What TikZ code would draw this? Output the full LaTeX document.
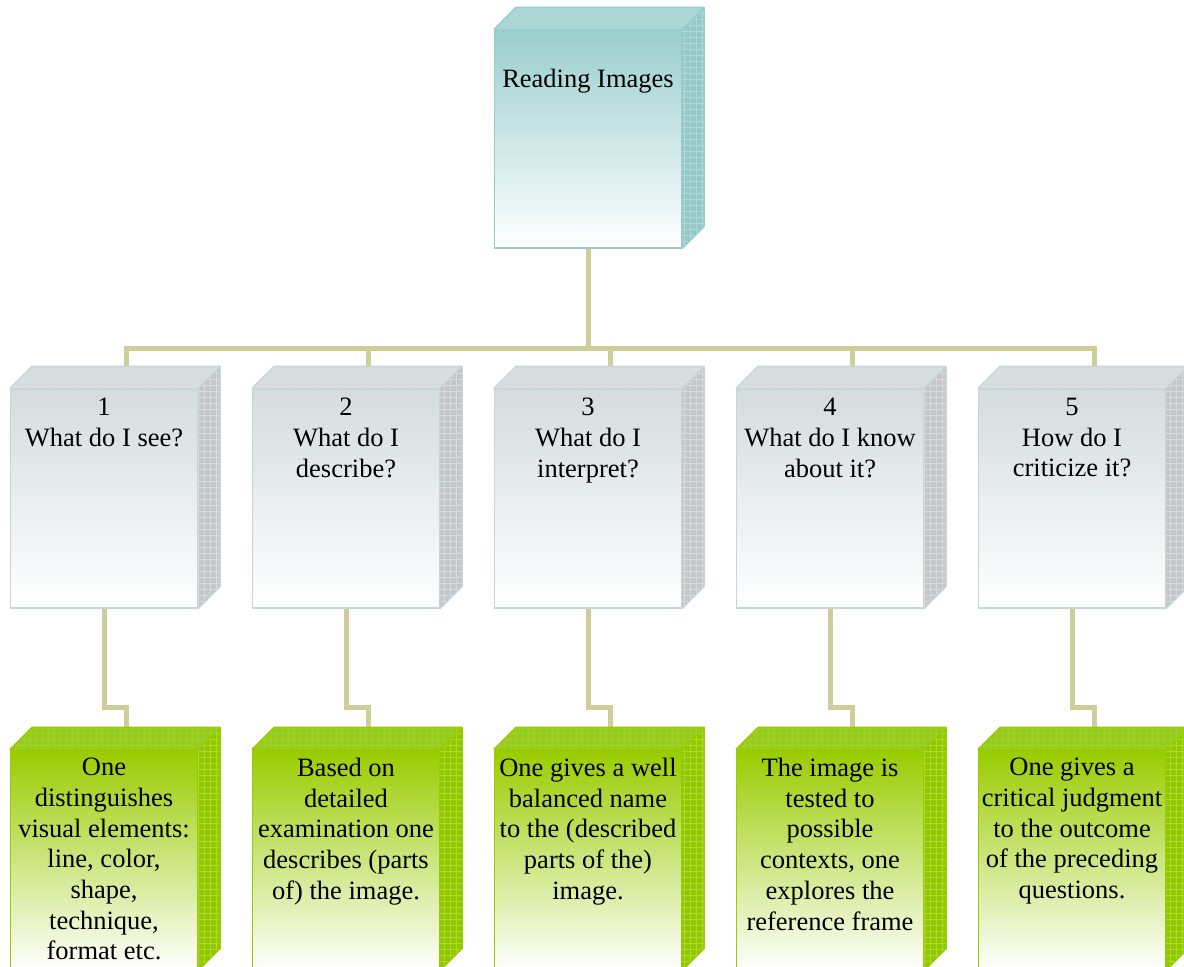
\documentclass[tikz,border=0pt]{standalone}
\usepackage{fontspec}
\setmainfont{Liberation Serif}
\usetikzlibrary{calc,patterns.meta}
\definecolor{conncol}{RGB}{206,206,152}
\definecolor{tealtop}{RGB}{154,206,206}
\definecolor{tealface}{RGB}{170,214,214}
\definecolor{tealside}{RGB}{150,202,202}
\definecolor{tealhatch}{RGB}{176,216,216}
\definecolor{tealborder}{RGB}{150,204,204}
\definecolor{greytop}{RGB}{211,220,222}
\definecolor{greyface}{RGB}{214,222,224}
\definecolor{greyside}{RGB}{196,200,202}
\definecolor{greyhatch}{RGB}{216,219,221}
\definecolor{greyborder}{RGB}{198,213,216}
\definecolor{greentop}{RGB}{153,204,0}
\definecolor{greenface}{RGB}{150,204,30}
\definecolor{greenside}{RGB}{145,200,0}
\definecolor{greenhatch}{RGB}{172,216,50}
\definecolor{greenborder}{RGB}{153,204,0}
\newcommand\mkcube[5]{%
  \fill[#2] (#1.north west) -- ++(22,-22) -- ($(#1.north east)+(22,-22)$) -- (#1.north east) -- cycle;
  \fill[pattern={Hatch[angle=0,distance=6pt,line width=0.4pt]},pattern color=#4!50!#2] (#1.north west) -- ++(22,-22) -- ($(#1.north east)+(22,-22)$) -- (#1.north east) -- cycle;
  \fill[#3] (#1.north east) -- ++(22,-22) -- ($(#1.south east)+(22,-22)$) -- (#1.south east) -- cycle;
  \fill[pattern={Hatch[angle=0,distance=6pt,line width=0.4pt]},pattern color=#4] (#1.north east) -- ++(22,-22) -- ($(#1.south east)+(22,-22)$) -- (#1.south east) -- cycle;
  \draw[#5,line width=1.3pt,line join=round] (#1.north west) -- ++(22,-22) -- ($(#1.north east)+(22,-22)$) -- ($(#1.south east)+(22,-22)$) -- (#1.south east) (#1.north east) -- ++(22,-22);
}
\tikzset{
  conn/.style={conncol,line width=5pt},
  front/.style={rectangle,inner sep=0pt,minimum width=187pt,line width=1.3pt},
  tealbox/.style={front,minimum height=218pt,draw=tealborder,top color=tealtop,bottom color=white},
  greybox/.style={front,minimum height=219pt,draw=greyborder,top color=greytop,bottom color=white},
  greenbox/.style={front,minimum height=220pt,draw=greenborder,top color=greentop,bottom color=white},
  txt/.style={inner sep=0pt,align=center,anchor=north,font=\fontsize{26.5}{30.7}\selectfont}
}
\begin{document}
\begin{tikzpicture}[x=1pt,y=-1pt]
\useasboundingbox (0,0) rectangle (1184,967);
\clip (0,0) rectangle (1184,967);
\fill[white] (0,0) rectangle (1184,967);
% boxes
\node[tealbox] (top) at (588,139) {};
\foreach \i/\x in {1/104,2/346,3/588,4/830,5/1072}{
  \node[greybox] (b\i) at (\x,498.5) {};
  \node[greenbox] (g\i) at (\x,860) {};
  \coordinate (bt\i) at ($(b\i.north)+(22,-22)$);
  \coordinate (gt\i) at ($(g\i.north)+(22,-22)$);
}
% connectors
\draw[conn] (top.south) -- ++(0,100) coordinate (bus);
\foreach \i in {1,...,5}{
  \draw[conn] (bus) -| (bt\i);
  \draw[conn] (b\i.south) -- ++(0,99) -| (gt\i);
}
% cube decorations
\mkcube{top}{tealface}{tealside}{tealhatch}{tealborder}
\foreach \i in {1,...,5}{
  \mkcube{b\i}{greyface}{greyside}{greyhatch}{greyborder}
  \mkcube{g\i}{greenface}{greenside}{greenhatch}{greenborder}
}
% texts
\node[txt] (ttop) at (588,69) {Reading Images};
\node[txt] (tb1) at (104,398) {1\\What do I see?};
\node[txt] (tb2) at (346,398) {2\\What do I\\describe?};
\node[txt] (tb3) at (588,398) {3\\What do I\\interpret?};
\node[txt] (tb4) at (830,398) {4\\What do I know\\about it?};
\node[txt] (tb5) at (1072,398) {5\\How do I\\criticize it?};
\node[txt] (tg1) at (104,758) {One\\distinguishes\\visual elements:\\line, color,\\shape,\\technique,\\format etc.};
\node[txt] (tg2) at (346,758) {Based on\\detailed\\examination one\\describes (parts\\of) the image.};
\node[txt] (tg3) at (588,758) {One gives a well\\balanced name\\to the (described\\parts of the)\\image.};
\node[txt] (tg4) at (830,758) {The image is\\tested to\\possible\\contexts, one\\explores the\\reference frame};
\node[txt] (tg5) at (1072,758) {One gives a\\critical judgment\\to the outcome\\of the preceding\\questions.};
\end{tikzpicture}
\end{document}
